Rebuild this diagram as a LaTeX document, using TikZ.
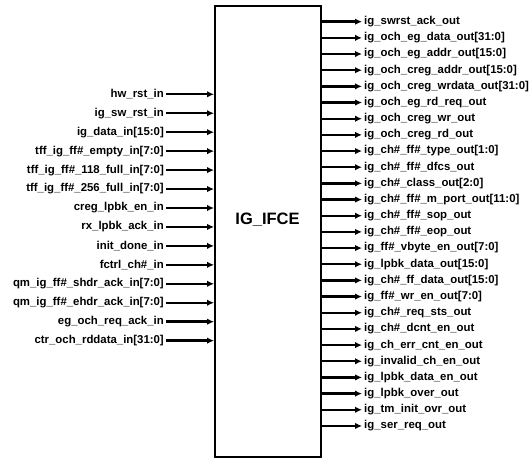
\documentclass[tikz,border=0pt]{standalone}
\usepackage{fontspec}
\setmainfont{Liberation Sans}
\usetikzlibrary{arrows.meta}
\begin{document}
\begin{tikzpicture}[x=1pt,y=1pt,
  sig/.style={font=\fontsize{11.4}{12}\selectfont\bfseries, inner sep=2pt},
  wire/.style={line width=2.4pt, -{Latex[length=7pt,width=6.5pt]}},
  block/.style={draw, line width=2pt, minimum width=106pt, minimum height=451pt, inner sep=0pt}]
\useasboundingbox (0,0) rectangle (529,460);
\node[block] (box) at (268,228.5) {};
\node[font=\fontsize{16.5}{18}\selectfont\bfseries] (title) at (267.5,240) {IG\_IFCE};
\foreach \t [count=\i] in {
  {hw\_rst\_in},
  {ig\_sw\_rst\_in},
  {ig\_data\_in[15:0]},
  {tff\_ig\_ff\#\_empty\_in[7:0]},
  {tff\_ig\_ff\#\_118\_full\_in[7:0]},
  {tff\_ig\_ff\#\_256\_full\_in[7:0]},
  {creg\_lpbk\_en\_in},
  {rx\_lpbk\_ack\_in},
  {init\_done\_in},
  {fctrl\_ch\#\_in},
  {qm\_ig\_ff\#\_shdr\_ack\_in[7:0]},
  {qm\_ig\_ff\#\_ehdr\_ack\_in[7:0]},
  {eg\_och\_req\_ack\_in},
  {ctr\_och\_rddata\_in[31:0]}} {
  \node[sig, anchor=east] (in\i) at (166, {460-94.3-18.95*(\i-1)}) {\t};
  \draw[wire] (in\i.east) -- (box.west |- in\i.east);
}
\foreach \t [count=\i] in {
  {ig\_swrst\_ack\_out},
  {ig\_och\_eg\_data\_out[31:0]},
  {ig\_och\_eg\_addr\_out[15:0]},
  {ig\_och\_creg\_addr\_out[15:0]},
  {ig\_och\_creg\_wrdata\_out[31:0]},
  {ig\_och\_eg\_rd\_req\_out},
  {ig\_och\_creg\_wr\_out},
  {ig\_och\_creg\_rd\_out},
  {ig\_ch\#\_ff\#\_type\_out[1:0]},
  {ig\_ch\#\_ff\#\_dfcs\_out},
  {ig\_ch\#\_class\_out[2:0]},
  {ig\_ch\#\_ff\#\_m\_port\_out[11:0]},
  {ig\_ch\#\_ff\#\_sop\_out},
  {ig\_ch\#\_ff\#\_eop\_out},
  {ig\_ff\#\_vbyte\_en\_out[7:0]},
  {ig\_lpbk\_data\_out[15:0]},
  {ig\_ch\#\_ff\_data\_out[15:0]},
  {ig\_ff\#\_wr\_en\_out[7:0]},
  {ig\_ch\#\_req\_sts\_out},
  {ig\_ch\#\_dcnt\_en\_out},
  {ig\_ch\_err\_cnt\_en\_out},
  {ig\_invalid\_ch\_en\_out},
  {ig\_lpbk\_data\_en\_out},
  {ig\_lpbk\_over\_out},
  {ig\_tm\_init\_ovr\_out},
  {ig\_ser\_req\_out}} {
  \node[sig, anchor=west] (out\i) at (362, {460-21.7-16.17*(\i-1)}) {\t};
  \draw[wire] (box.east |- out\i.west) -- (out\i.west);
}
\end{tikzpicture}
\end{document}
